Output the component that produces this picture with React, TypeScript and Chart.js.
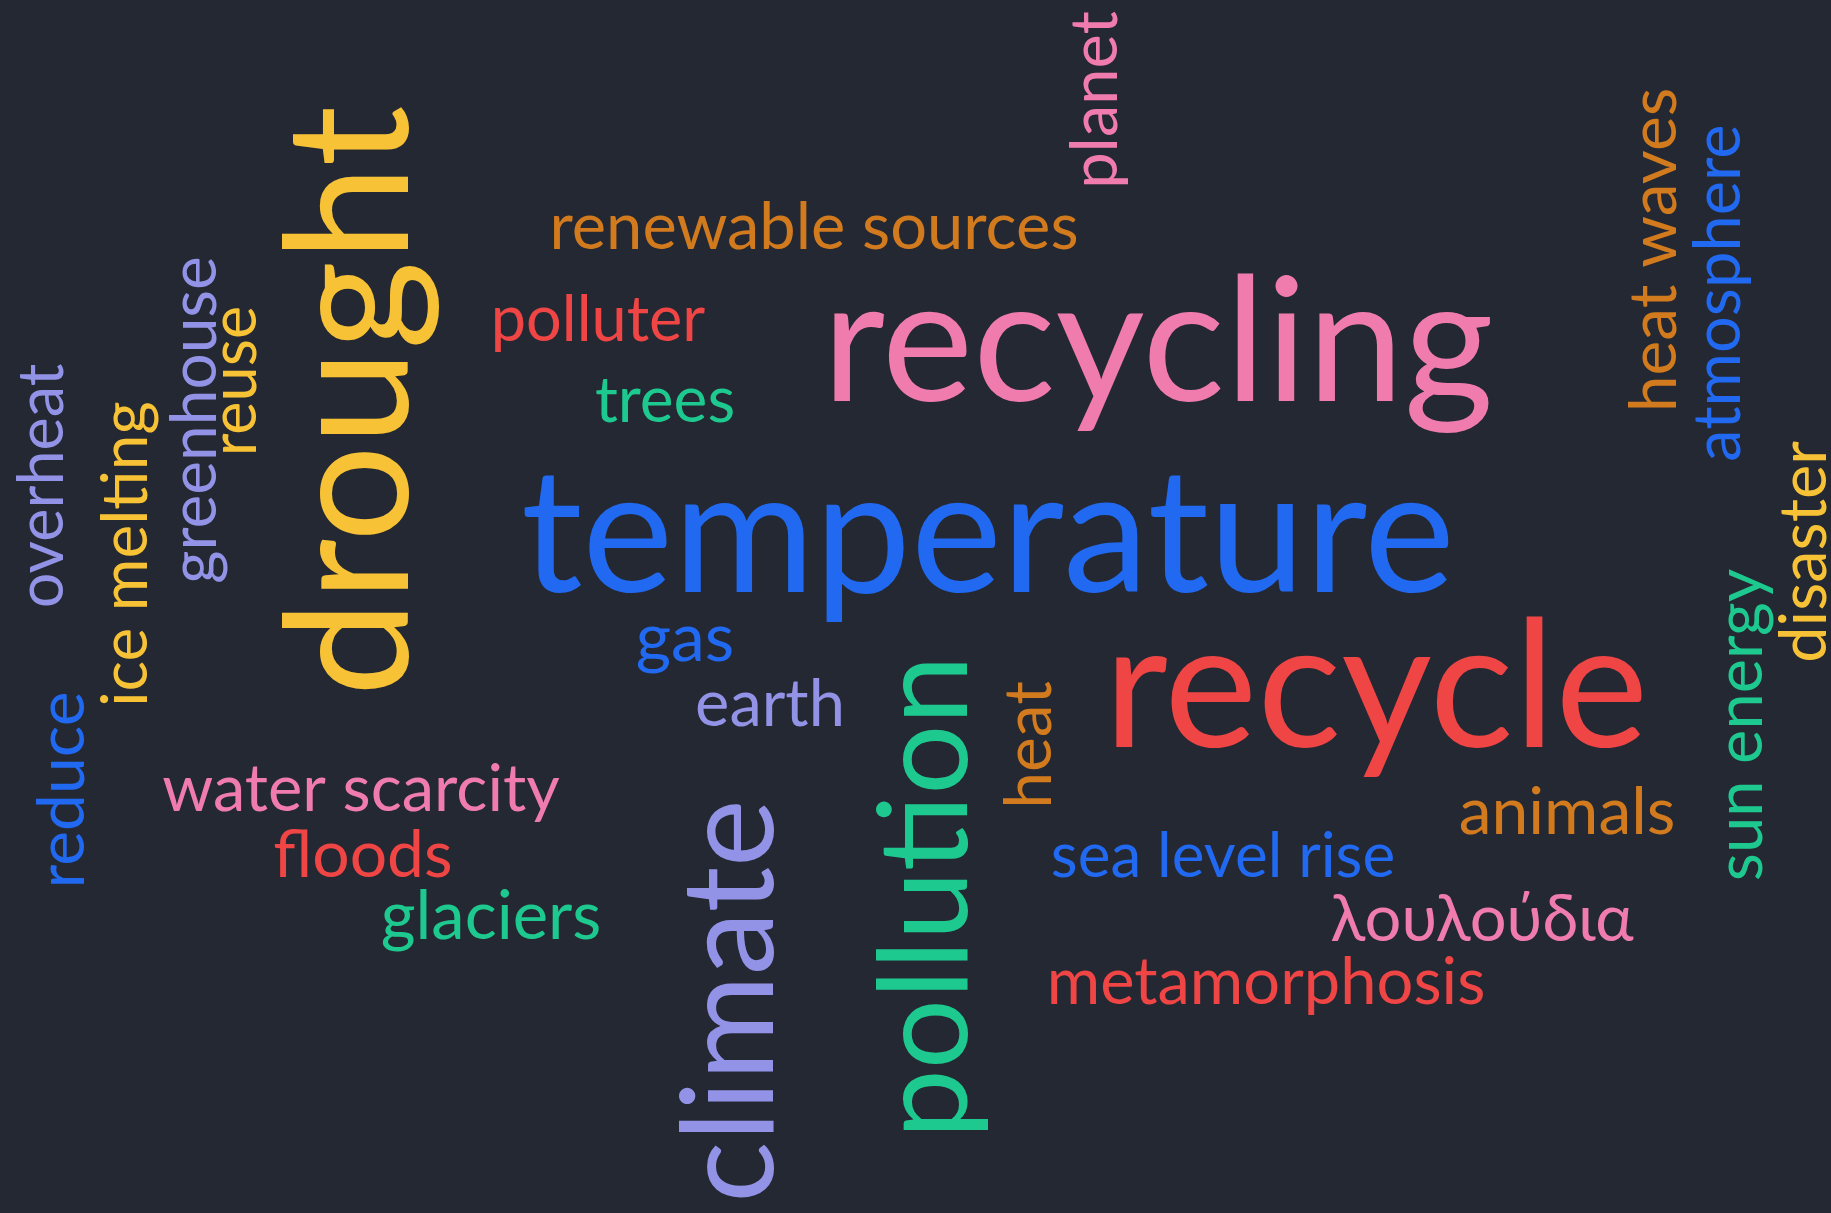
import React, { useEffect, useRef } from "react";
import { Chart, registerables } from "chart.js";

Chart.register(...registerables);

// Word cloud layout space (reference units): width 1831, height 1213
const LAYOUT_W = 1831;
const LAYOUT_H = 1213;

const words = [
  "renewable sources", "polluter", "trees", "recycling", "temperature",
  "gas", "earth", "recycle", "water scarcity", "floods", "glaciers",
  "sea level rise", "animals", "λουλούδια", "metamorphosis",
  "planet", "drought", "overheat", "ice melting", "greenhouse", "reuse",
  "reduce", "climate", "pollution", "heat", "heat waves", "atmosphere",
  "disaster", "sun energy",
];

// anchor: centre along the word, on its baseline
const wordX = [
  814, 598, 665, 1158, 988,
  685, 770, 1376, 361, 363, 491,
  1223, 1567, 1482, 1266,
  1117, 408, 63, 147, 216, 256,
  84, 773, 967, 1051, 1676, 1740,
  1826, 1762,
];
const wordY = [
  249, 341, 422, 401, 592,
  661, 726, 747, 811, 877, 939,
  877, 834, 941, 1004,
  100, 401, 486, 554, 420, 381,
  790, 1001, 897, 745, 250, 293,
  552, 725,
];
const wordWeight = [
  65, 63, 64, 173, 172,
  68, 65, 176, 65, 66, 67,
  62, 66, 65, 65,
  65, 171, 63, 64, 64, 63,
  66, 128, 124, 66, 66, 65,
  65, 65,
];
const wordRotation = [
  0, 0, 0, 0, 0,
  0, 0, 0, 0, 0, 0,
  0, 0, 0, 0,
  -90, -90, -90, -90, -90, -90,
  -90, -90, -90, -90, -90, -90,
  -90, -90,
];
const wordGroup = [
  "orange", "red", "green", "pink", "blue",
  "blue", "lavender", "red", "pink", "red", "green",
  "blue", "orange", "pink", "red",
  "pink", "yellow", "lavender", "yellow", "lavender", "yellow",
  "blue", "lavender", "green", "orange", "orange", "blue",
  "yellow", "green",
];

const palette: Record<string, string> = {
  orange: "#d27a1e",
  red: "#ef4545",
  green: "#1ec98f",
  pink: "#f07cae",
  blue: "#2169f0",
  lavender: "#9293e6",
  yellow: "#f7c236",
};

const BG = "#242832";
const FONT = 'Lato, "Noto Sans", "DejaVu Sans", sans-serif';

const wordPlugin = {
  id: "wordText",
  beforeDraw(chart: any) {
    const { ctx, width, height } = chart;
    ctx.save();
    ctx.fillStyle = BG;
    ctx.fillRect(0, 0, width, height);
    ctx.restore();
  },
  afterDatasetsDraw(chart: any) {
    const ctx = chart.ctx;
    const meta = chart.getDatasetMeta(0);
    const k = chart.chartArea.width / LAYOUT_W;
    meta.data.forEach((el: any, i: number) => {
      ctx.save();
      ctx.font = `400 ${wordWeight[i] * k}px ${FONT}`;
      ctx.fillStyle = palette[wordGroup[i]];
      ctx.textAlign = "center";
      ctx.textBaseline = "alphabetic";
      ctx.translate(el.x, el.y);
      ctx.rotate((wordRotation[i] * Math.PI) / 180);
      ctx.fillText(words[i], 0, 0);
      ctx.restore();
    });
  },
};

export default function App() {
  const ref = useRef<HTMLCanvasElement | null>(null);

  useEffect(() => {
    if (!ref.current) return;
    const chart = new Chart(ref.current, {
      type: "scatter",
      data: {
        labels: words,
        datasets: [
          {
            label: "words",
            data: words.map((_, i) => ({ x: wordX[i], y: wordY[i] })),
            pointRadius: 0,
            pointHoverRadius: 0,
            backgroundColor: "rgba(0,0,0,0)",
            borderColor: "rgba(0,0,0,0)",
          },
        ],
      },
      options: {
        animation: false,
        responsive: true,
        maintainAspectRatio: false,
        layout: { padding: 0 },
        events: [],
        plugins: {
          legend: { display: false },
          tooltip: { enabled: false },
          title: { display: false },
        },
        scales: {
          x: { type: "linear", min: 0, max: LAYOUT_W, display: false },
          y: { type: "linear", min: 0, max: LAYOUT_H, reverse: true, display: false },
        },
      },
      plugins: [wordPlugin],
    });
    return () => chart.destroy();
  }, []);

  return (
    <div
      style={{
        position: "fixed",
        left: 0,
        top: 0,
        width: "100vw",
        height: "100vh",
        background: BG,
      }}
    >
      <canvas ref={ref} />
    </div>
  );
}
